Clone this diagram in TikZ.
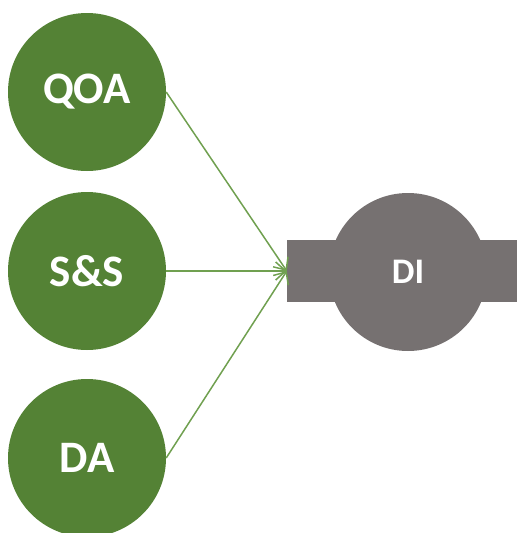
\documentclass[tikz,border=0pt]{standalone}
\usepackage{fontspec}
\setmainfont{Carlito}
\usepackage{xcolor}
\definecolor{source-green}{HTML}{548235}
\definecolor{link-green}{HTML}{70A050}
\definecolor{target-grey}{HTML}{767171}
\usetikzlibrary{arrows.meta}

\tikzset{
    source/.style={circle, fill=source-green, minimum size=158pt, inner sep=0pt,
        text=white, font=\fontsize{45}{45}\selectfont\bfseries},
    link/.style={draw=link-green, line width=1.5pt,
        -{Straight Barb[length=10pt, width=18pt, line width=1.5pt]}}
}

\begin{document}
\begin{tikzpicture}[x=1pt, y=-1pt]

    % Canvas
    \useasboundingbox (0, 0) rectangle (517, 533);

    % Sources
    \node[source] (qoa) at (87, 92) {QOA};
    \node[source] (ss) at (87, 271) {S\&S};
    \node[source] (da) at (87, 458) {DA};

    % Target
    \node[fill=target-grey, minimum width=230pt, minimum height=62pt, inner sep=0pt] (bar) at (402, 271) {};
    \node[circle, fill=target-grey, minimum size=158pt, inner sep=0pt,
        text=white, font=\fontsize{36}{36}\selectfont\bfseries] (di) at (408, 272) {DI};

    % Links
    \draw[link] (qoa.east) -- (bar.west);
    \draw[link] (ss.east) -- (bar.west);
    \draw[link] (da.east) -- (bar.west);

\end{tikzpicture}
\end{document}
